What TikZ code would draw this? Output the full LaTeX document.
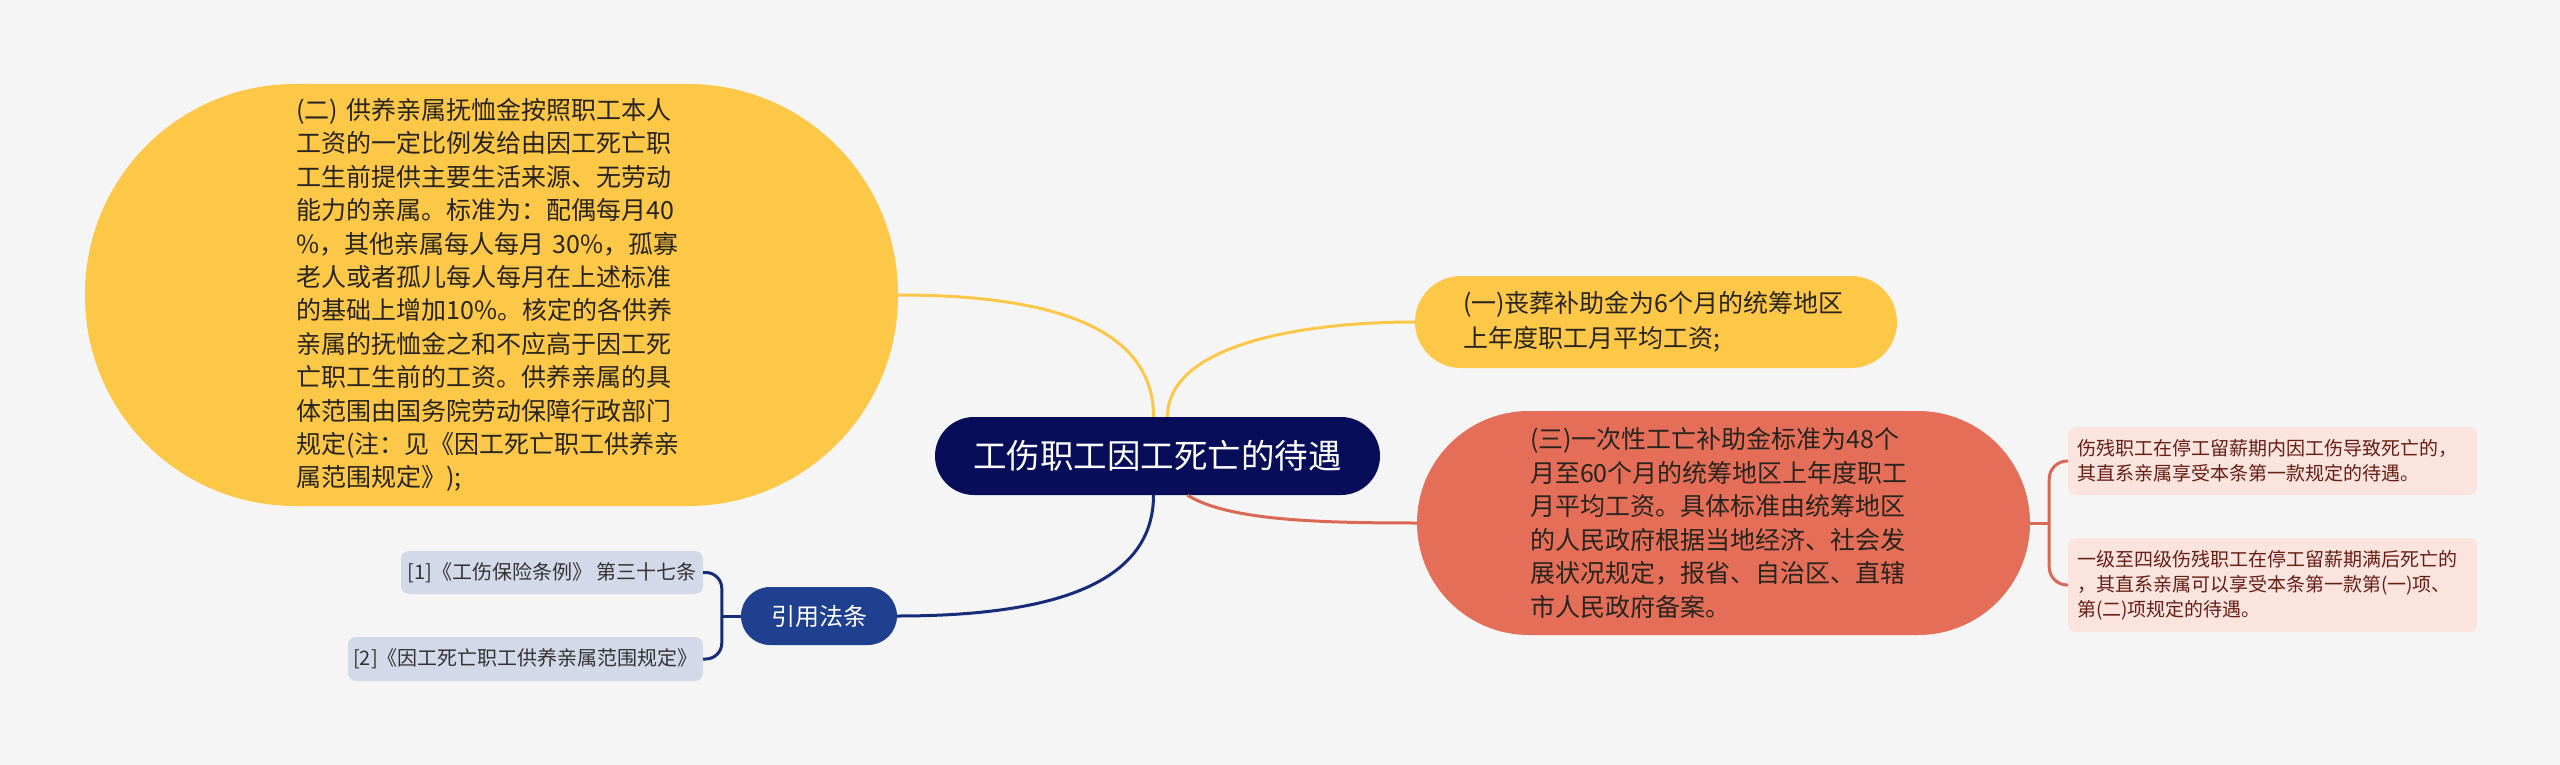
\documentclass[tikz,border=0pt]{standalone}
\usepackage{fontspec}
\newfontfamily\cjk{Noto Sans CJK SC}
\usetikzlibrary{positioning,calc}
\definecolor{bgcolor}{RGB}{245,245,245}
\definecolor{rootcolor}{RGB}{8,13,90}
\definecolor{goldcolor}{RGB}{253,200,72}
\definecolor{coralcolor}{RGB}{229,110,89}
\definecolor{citecolor}{RGB}{31,64,142}
\definecolor{citeline}{RGB}{22,44,120}
\definecolor{lawcolor}{RGB}{211,217,233}
\definecolor{pinkcolor}{RGB}{251,228,222}
\definecolor{pinktext}{RGB}{100,30,20}
\definecolor{inktext}{RGB}{40,36,30}

\begin{document}
\begin{tikzpicture}[x=1pt, y=-1pt,
    pill/.style={rectangle, rounded corners=#1, inner sep=0pt},
    goldbox/.style={pill=#1, fill=goldcolor, text=inktext, align=left,
      font=\cjk\fontsize{25}{33.4}\selectfont},
    pinkbox/.style={rectangle, rounded corners=8pt, inner sep=0pt, fill=pinkcolor,
      text=pinktext, align=left, minimum width=409pt, text width=391pt,
      font=\cjk\fontsize{19}{25}\selectfont},
    lawbox/.style={rectangle, rounded corners=8pt, inner sep=0pt, fill=lawcolor,
      text=black!80, minimum height=43pt, font=\cjk\fontsize{20}{24}\selectfont},
    goldline/.style={draw=goldcolor, line width=3pt},
    coralline/.style={draw=coralcolor!95!black, line width=3pt},
    navyline/.style={draw=citeline, line width=3pt}]

  % canvas
  \fill[bgcolor] (0,0) rectangle (2560,765);
  \useasboundingbox (0,0) rectangle (2560,765);

  % centre topic
  \node[pill=39pt, fill=rootcolor, text=white, minimum width=445pt, minimum height=78pt,
    font=\cjk\fontsize{33.5}{38}\selectfont] (root) at (1157.5,456) {工伤职工因工死亡的待遇};

  % (二) pension
  \node[goldbox=210pt, minimum width=813pt, minimum height=422pt, text width=390pt]
    (pension) at (491.5,295) {(二) 供养亲属抚恤金按照职工本人\\
    工资的一定比例发给由因工死亡职\\
    工生前提供主要生活来源、无劳动\\
    能力的亲属。标准为：配偶每月40\\
    \%，其他亲属每人每月 30\%，孤寡\\
    老人或者孤儿每人每月在上述标准\\
    的基础上增加10\%。核定的各供养\\
    亲属的抚恤金之和不应高于因工死\\
    亡职工生前的工资。供养亲属的具\\
    体范围由国务院劳动保障行政部门\\
    规定(注：见《因工死亡职工供养亲\\
    属范围规定》);};

  % (一) burial
  \node[goldbox=46pt, minimum width=482pt, minimum height=92pt, text width=386pt,
    font=\cjk\fontsize{25}{35}\selectfont]
    (burial) at (1656,322) {(一)丧葬补助金为6个月的统筹地区\\上年度职工月平均工资;};

  % (三) lump sum
  \node[pill=112pt, fill=coralcolor, text=inktext, align=left, minimum width=613pt,
    minimum height=224pt, text width=387pt, font=\cjk\fontsize{25}{33.6}\selectfont]
    (lumpsum) at (1723.5,523) {(三)一次性工亡补助金标准为48个\\
    月至60个月的统筹地区上年度职工\\
    月平均工资。具体标准由统筹地区\\
    的人民政府根据当地经济、社会发\\
    展状况规定，报省、自治区、直辖\\
    市人民政府备案。};

  % notes on (三)
  \node[pinkbox, minimum height=68pt] (disabled1) at (2272.5,461)
    {伤残职工在停工留薪期内因工伤导致死亡的，\\其直系亲属享受本条第一款规定的待遇。};
  \node[pinkbox, minimum height=94pt] (disabled2) at (2272.5,585)
    {一级至四级伤残职工在停工留薪期满后死亡的\\，其直系亲属可以享受本条第一款第(一)项、\\第(二)项规定的待遇。};

  % cited articles
  \node[pill=29pt, fill=citecolor, text=white, minimum width=156pt, minimum height=58pt,
    font=\cjk\fontsize{24}{28}\selectfont] (cite) at (819,616) {引用法条};
  \node[lawbox, minimum width=302pt] (law1) at (552,572.5) {[1]《工伤保险条例》 第三十七条};
  \node[lawbox, minimum width=355pt, minimum height=44pt] (law2) at (525.5,659)
    {[2]《因工死亡职工供养亲属范围规定》};

  % branches from the centre
  \draw[goldline] ([xshift=-4pt]root.north) .. controls +(0,-95) and +(140,0) .. (pension.east);
  \draw[goldline] ([xshift=10pt]root.north) .. controls +(0,-70) and +(-120,0) .. (burial.west);
  \draw[coralline] ([xshift=30pt]root.south) .. controls +(40,25) and +(-100,0) .. (lumpsum.west);
  \draw[navyline] ([xshift=-4pt]root.south) .. controls +(0,95) and +(140,0) .. (cite.east);

  % brackets
  \coordinate[right=19pt of lumpsum.east] (lumpfork);
  \draw[coralline] (lumpsum.east) -- (lumpfork);
  \draw[coralline, rounded corners=18pt] (disabled1.west) -| (lumpfork) |- (disabled2.west);

  \coordinate[left=19pt of cite.west] (citefork);
  \draw[navyline] (cite.west) -- (citefork);
  \draw[navyline, rounded corners=16pt] (law1.east) -| (citefork) |- (law2.east);
\end{tikzpicture}
\end{document}
